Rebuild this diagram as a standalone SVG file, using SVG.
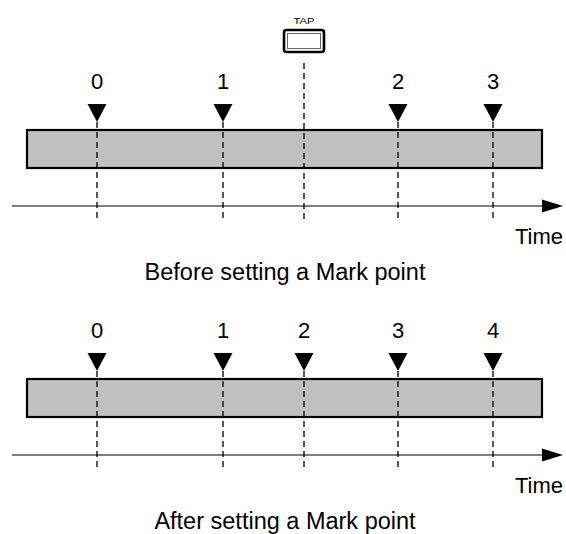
<svg xmlns="http://www.w3.org/2000/svg" width="566" height="534" viewBox="0 0 566 534">
<style>
.bar{fill:#c0c0c0;stroke:#000;stroke-width:2.2}
.axis{stroke:#000;stroke-width:1.2;fill:none}
.dash{stroke:#000;stroke-width:1.3;stroke-dasharray:6 4;fill:none}
.lbl{font-family:"Liberation Sans",Arial,sans-serif;font-size:22px;fill:#000;text-anchor:middle}
.cap{font-family:"Liberation Sans",Arial,sans-serif;font-size:23.5px;fill:#000;text-anchor:middle}
.time{font-family:"Liberation Sans",Arial,sans-serif;font-size:22px;fill:#000;text-anchor:end}
.small{font-family:"Liberation Sans",Arial,sans-serif;font-size:9px;fill:#000;text-anchor:middle}
</style>
<defs>
<path id="tri" d="M-9.5,0 L9.5,0 L0,18 Z"/>
</defs>
<rect width="566" height="534" fill="#fff"/>

<g id="top-panel">
  <g id="tap-button">
    <text class="small" x="304" y="24" textLength="21" lengthAdjust="spacingAndGlyphs">TAP</text>
    <rect x="284" y="30" width="40" height="22" rx="2.5" fill="#fff" stroke="#000" stroke-width="2.6"/>
    <rect x="287.5" y="33.5" width="33" height="15" fill="none" stroke="#666" stroke-width="1"/>
  </g>
  <g id="top-bar"><rect class="bar" x="27" y="130" width="515" height="38"/></g>
  <g id="top-marker-0"><text class="lbl" x="97" y="89">0</text><use href="#tri" x="97" y="104"/></g>
  <g id="top-marker-1"><text class="lbl" x="223" y="89">1</text><use href="#tri" x="223" y="104"/></g>
  <g id="top-marker-2"><text class="lbl" x="398" y="89">2</text><use href="#tri" x="398" y="104"/></g>
  <g id="top-marker-3"><text class="lbl" x="493" y="89">3</text><use href="#tri" x="493" y="104"/></g>
  <text class="time" x="563" y="244">Time</text>
  <text class="cap" x="285" y="280">Before setting a Mark point</text>
</g>

<g id="bottom-panel">
  <g id="bottom-bar"><rect class="bar" x="27" y="379" width="515" height="38"/></g>
  <g id="bottom-marker-0"><text class="lbl" x="97" y="338">0</text><use href="#tri" x="97" y="353"/></g>
  <g id="bottom-marker-1"><text class="lbl" x="223" y="338">1</text><use href="#tri" x="223" y="353"/></g>
  <g id="bottom-marker-2"><text class="lbl" x="304" y="338">2</text><use href="#tri" x="304" y="353"/></g>
  <g id="bottom-marker-3"><text class="lbl" x="398" y="338">3</text><use href="#tri" x="398" y="353"/></g>
  <g id="bottom-marker-4"><text class="lbl" x="493" y="338">4</text><use href="#tri" x="493" y="353"/></g>
  <text class="time" x="563" y="493">Time</text>
  <text class="cap" x="285" y="529">After setting a Mark point</text>
</g>

<g id="connectors">
  <line class="axis" x1="12" y1="206" x2="545" y2="206"/>
  <polygon points="542,199.5 563,206 542,212.5" fill="#000"/>
  <line class="axis" x1="12" y1="455" x2="545" y2="455"/>
  <polygon points="542,448.5 563,455 542,461.5" fill="#000"/>
  <line class="dash" x1="97" y1="122" x2="97" y2="218"/>
  <line class="dash" x1="223" y1="122" x2="223" y2="218"/>
  <line class="dash" x1="304" y1="63" x2="304" y2="220"/>
  <line class="dash" x1="398" y1="122" x2="398" y2="218"/>
  <line class="dash" x1="493" y1="122" x2="493" y2="218"/>
  <line class="dash" x1="97" y1="371" x2="97" y2="469"/>
  <line class="dash" x1="223" y1="371" x2="223" y2="469"/>
  <line class="dash" x1="304" y1="371" x2="304" y2="469"/>
  <line class="dash" x1="398" y1="371" x2="398" y2="469"/>
  <line class="dash" x1="493" y1="371" x2="493" y2="469"/>
</g>
</svg>
